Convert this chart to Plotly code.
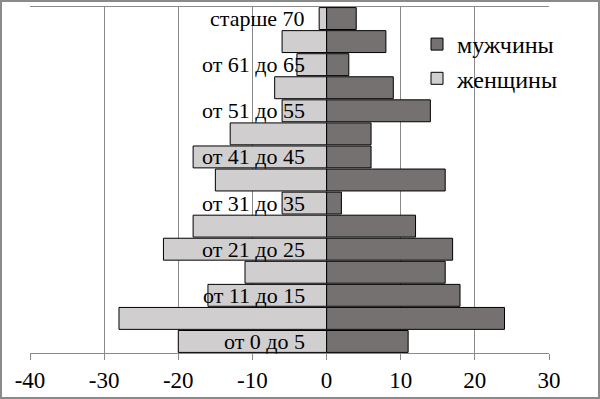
import plotly.graph_objects as go

categories = ["от 0 до 5", "от 6 до 10", "от 11 до 15", "от 16 до 20", "от 21 до 25",
              "от 26 до 30", "от 31 до 35", "от 36 до 40", "от 41 до 45", "от 46 до 50",
              "от 51 до 55", "от 56 до 60", "от 61 до 65", "от 66 до 70", "старше 70"]
men = [11, 24, 18, 16, 17, 12, 2, 16, 6, 6, 14, 9, 3, 8, 4]
women = [-20, -28, -16, -11, -22, -18, -6, -15, -18, -13, -6, -7, -4, -6, -1]
x_ticks = [-40, -30, -20, -10, 0, 10, 20, 30]
x_tick_labels = [str(v) for v in x_ticks]

FONT = "Liberation Serif, Times New Roman, serif"
W, H = 600, 399
L, R, T, B = 30, 51, 7, 46
pw, ph = W - L - R, H - T - B

fig = go.Figure()
fig.add_trace(go.Bar(y=categories, x=men, orientation="h", name="мужчины",
                     marker=dict(color="#767171", line=dict(color="black", width=1))))
fig.add_trace(go.Bar(y=categories, x=women, orientation="h", name="женщины",
                     marker=dict(color="#d0cece", line=dict(color="black", width=1))))

for i, c in enumerate(categories):
    if i % 2 == 0:
        fig.add_annotation(x=0, y=c, xref="x", yref="y", text=c, showarrow=False,
                           xanchor="right", xshift=-20,
                           font=dict(family=FONT, size=22, color="black"))

fig.add_shape(type="rect", xref="paper", yref="paper",
              x0=(1 - L) / pw, x1=(W - 1 - L) / pw,
              y0=(H - B - (H - 1)) / ph, y1=(H - B - 1) / ph,
              line=dict(color="#8a8a8a", width=2), fillcolor="rgba(0,0,0,0)", layer="above")

fig.update_layout(
    width=W, height=H,
    margin=dict(l=L, r=R, t=T, b=B, autoexpand=False),
    barmode="relative", bargap=0.05,
    plot_bgcolor="white", paper_bgcolor="white",
    font=dict(family=FONT, size=20, color="black"),
    showlegend=True,
    legend=dict(x=(417 - L) / pw, y=(H - B - 22) / ph, xanchor="left", yanchor="top",
                bgcolor="rgba(0,0,0,0)", font=dict(family=FONT, size=24),
                itemwidth=30, tracegroupgap=0),
    xaxis=dict(range=[-40, 30], tickmode="array", tickvals=x_ticks, ticktext=x_tick_labels,
               showgrid=True, gridcolor="#8a8a8a", automargin=False,
               gridwidth=1, zeroline=False, showline=True, mirror=True, linecolor="#8a8a8a",
               ticks="outside", ticklen=6, tickcolor="#8a8a8a",
               tickfont=dict(family=FONT, size=23, color="black")),
    yaxis=dict(categoryorder="array", categoryarray=categories, range=[-0.5, 14.5],
               automargin=False,
               showticklabels=False, showgrid=False, zeroline=False, ticks=""),
)

fig.write_html("out.html", config={"displayModeBar": False},
               post_script="document.body.style.margin='0';")
